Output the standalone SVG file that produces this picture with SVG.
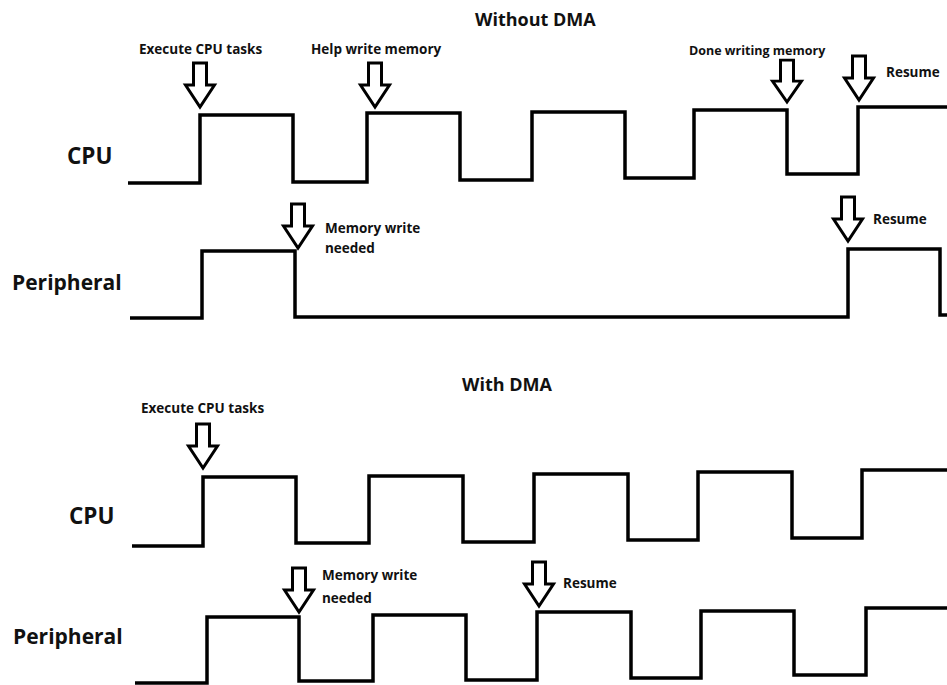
<svg xmlns="http://www.w3.org/2000/svg" width="947" height="685" viewBox="0 0 947 685">
  <style>
    .wave { fill: none; stroke: #000; stroke-width: 3.5; stroke-linejoin: miter; stroke-linecap: butt; }
    .arrow { fill: #fff; stroke: #000; stroke-width: 3; stroke-linejoin: miter; }
    text { font-family: "Open Sans", "Noto Sans", "Liberation Sans", sans-serif; font-weight: bold; fill: #111; }
    .title { font-size: 18px; }
    .row { font-size: 21px; }
    .cpu { font-size: 22.5px; }
    .note { font-size: 13.5px; }
    .note-sm { font-size: 12.5px; }
  </style>
  <defs>
    <!-- hollow block arrow, tip at the origin -->
    <path id="down-arrow" class="arrow" d="M -6.5,-44 H 6.5 V -22 H 14.5 L 0,0 L -14.5,-22 H -6.5 Z"/>
  </defs>
  <rect width="947" height="685" fill="#fff"/>

  <!-- Without DMA -->
  <g id="title-without">
    <text class="title" x="475" y="26">Without DMA</text>
  </g>
  <g id="label-cpu-1"><text class="row cpu" x="67" y="164">CPU</text></g>
  <g id="label-periph-1"><text class="row" x="12" y="290">Peripheral</text></g>

  <g id="signals">
    <path id="wave-cpu-1" class="wave" d="M 128,183 H 200 V 115 H 293 V 182 H 367 V 113 H 460 V 180 H 532 V 112 H 625 V 178 H 694 V 110 H 787 V 174 H 858 V 107 H 947"/>
    <path id="wave-periph-1" class="wave" d="M 130,318 H 202 V 251 H 295 V 317 H 848 V 249 H 940 V 315 H 947"/>
    <path id="wave-cpu-2" class="wave" d="M 132,546 H 203 V 477 H 296 V 543 H 369 V 476 H 463 V 542 H 534 V 474 H 628 V 540 H 698 V 472 H 792 V 538 H 862 V 470 H 947"/>
    <path id="wave-periph-2" class="wave" d="M 135,683 H 207 V 617 H 299 V 681 H 373 V 615 H 466 V 680 H 537 V 612 H 631 V 678 H 701 V 611 H 794 V 675 H 866 V 608 H 947"/>
  </g>

  <g id="event-execute-1">
    <use href="#down-arrow" transform="translate(200,107)"/>
    <text class="note" x="139" y="54">Execute CPU tasks</text>
  </g>
  <g id="event-help-write">
    <use href="#down-arrow" transform="translate(375,107)"/>
    <text class="note" x="311" y="54">Help write memory</text>
  </g>
  <g id="event-done-writing">
    <use href="#down-arrow" transform="translate(787,102) scale(1,0.95)"/>
    <text class="note-sm" x="689" y="55">Done writing memory</text>
  </g>
  <g id="event-resume-cpu-1">
    <use href="#down-arrow" transform="translate(859,100)"/>
    <text class="note" x="886" y="77">Resume</text>
  </g>
  <g id="event-mem-write-1">
    <use href="#down-arrow" transform="translate(298,248)"/>
    <text class="note" x="325" y="233">Memory write</text>
    <text class="note" x="325" y="253">needed</text>
  </g>
  <g id="event-resume-periph-1">
    <use href="#down-arrow" transform="translate(848,241)"/>
    <text class="note" x="873" y="224">Resume</text>
  </g>

  <!-- With DMA -->
  <g id="title-with">
    <text class="title" x="462" y="391">With DMA</text>
  </g>
  <g id="label-cpu-2"><text class="row cpu" x="69" y="524">CPU</text></g>
  <g id="label-periph-2"><text class="row" x="13" y="644">Peripheral</text></g>

  <g id="event-execute-2">
    <use href="#down-arrow" transform="translate(203,468)"/>
    <text class="note" x="141" y="413">Execute CPU tasks</text>
  </g>
  <g id="event-mem-write-2">
    <use href="#down-arrow" transform="translate(299,612)"/>
    <text class="note" x="322" y="580">Memory write</text>
    <text class="note" x="322" y="603">needed</text>
  </g>
  <g id="event-resume-periph-2">
    <use href="#down-arrow" transform="translate(539,606)"/>
    <text class="note" x="563" y="588">Resume</text>
  </g>
</svg>
